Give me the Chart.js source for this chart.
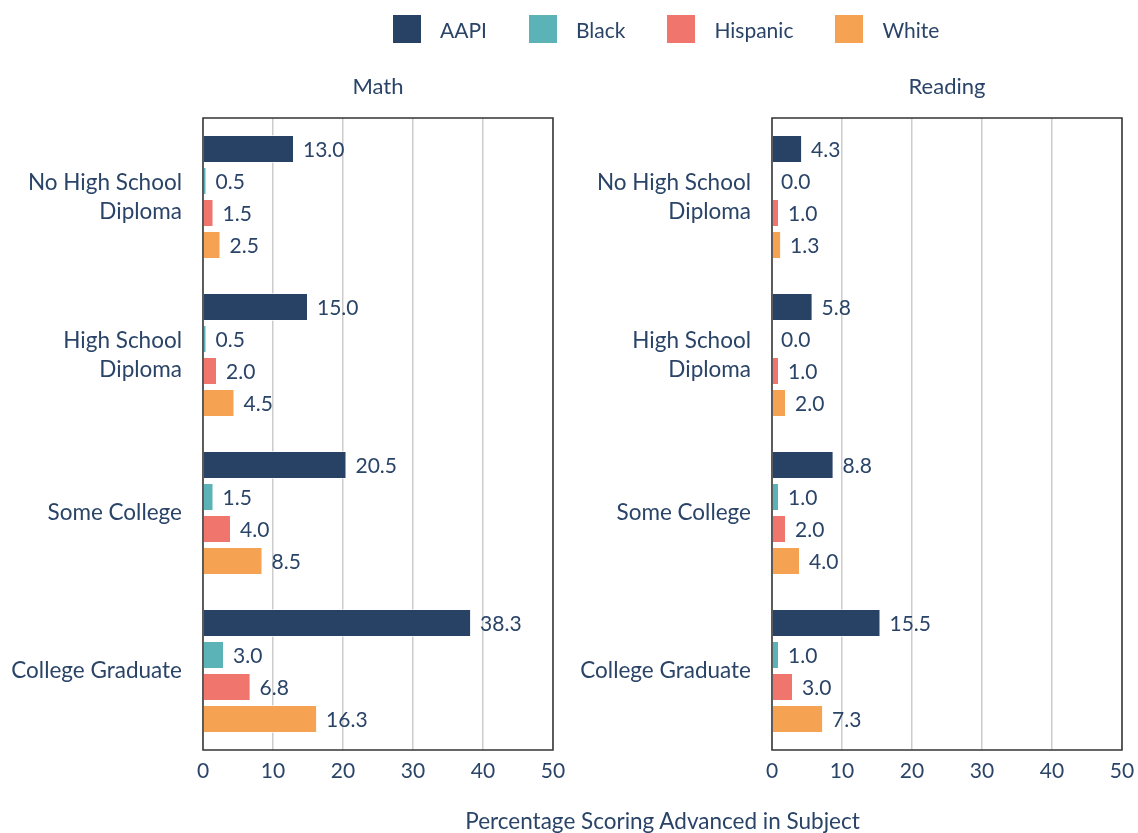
<!DOCTYPE html>
<html>
<head>
<meta charset="utf-8">
<script src="https://cdn.jsdelivr.net/npm/chart.js@4.4.1/dist/chart.umd.min.js"></script>
<style>
    body { margin: 0; background: #fff; font-family: Lato, sans-serif; color: #2a4468; }
    #wrap { position: relative; width: 1138px; height: 833px; overflow: hidden; }
    .panel { position: absolute; top: 0; width: 569px; height: 833px; }
    #legend { position: absolute; top: 15px; left: 393px; display: flex; align-items: center; font-size: 21px; }
    #legend .item { display: flex; align-items: center; margin-right: 42px; }
    #legend .box { width: 28px; height: 28px; margin-right: 19px; }
    #xtitle { position: absolute; top: 807px; left: 0; width: 1325px; text-align: center; font-size: 22.5px; }
</style>
</head>
<body>
<div id="wrap">
    <div class="panel" style="left:0"><canvas id="mathChart"></canvas></div>
    <div class="panel" style="left:569px"><canvas id="readingChart"></canvas></div>
    <div id="legend"></div>
    <div id="xtitle">Percentage Scoring Advanced in Subject</div>
</div>
<script>
// Chart data
const categories = [['No High School', 'Diploma'], ['High School', 'Diploma'], 'Some College', 'College Graduate'];
const seriesNames = ['AAPI', 'Black', 'Hispanic', 'White'];
const seriesColors = ['#284266', '#5bb3b7', '#ef756d', '#f5a352'];
const xTicks = [0, 10, 20, 30, 40, 50];

const mathAAPI = [13.0, 15.0, 20.5, 38.3];
const mathBlack = [0.5, 0.5, 1.5, 3.0];
const mathHispanic = [1.5, 2.0, 4.0, 6.8];
const mathWhite = [2.5, 4.5, 8.5, 16.3];

const readingAAPI = [4.3, 5.8, 8.8, 15.5];
const readingBlack = [0.0, 0.0, 1.0, 1.0];
const readingHispanic = [1.0, 1.0, 2.0, 3.0];
const readingWhite = [1.3, 2.0, 4.0, 7.3];

const textColor = '#2a4468';
const fontFamily = 'Lato, sans-serif';

// Legend
const legend = document.getElementById('legend');
seriesNames.forEach(function (name, i) {
    const item = document.createElement('div');
    item.className = 'item';
    item.innerHTML = `<span class="box" style="background:${seriesColors[i]}"></span><span>${name}</span>`;
    legend.appendChild(item);
});

// Frame, panel title and value labels
const decorPlugin = {
    id: 'decor',
    afterDatasetsDraw(chart) {
        const ctx = chart.ctx;
        const area = chart.chartArea;
        ctx.save();
        ctx.font = `21px ${fontFamily}`;
        ctx.fillStyle = textColor;
        ctx.textBaseline = 'middle';
        ctx.textAlign = 'left';
        chart.data.datasets.forEach(function (ds, di) {
            chart.getDatasetMeta(di).data.forEach(function (bar, i) {
                ctx.fillText(ds.data[i].toFixed(1), bar.x + 9, bar.y + 1);
            });
        });
        ctx.strokeStyle = '#333333';
        ctx.lineWidth = 1.5;
        ctx.strokeRect(area.left, area.top, area.right - area.left, area.bottom - area.top);
        ctx.textAlign = 'center';
        ctx.font = `22px ${fontFamily}`;
        ctx.fillText(chart.options.plugins.decor.title, (area.left + area.right) / 2, 87);
        ctx.restore();
    }
};

function makeChart(id, title, values) {
    new Chart(document.getElementById(id), {
        type: 'bar',
        data: {
            labels: categories,
            datasets: seriesNames.map(function (name, i) {
                return {
                    label: name,
                    data: values[i],
                    backgroundColor: seriesColors[i],
                    borderColor: 'rgba(255,255,255,0.6)',
                    borderWidth: 1,
                    barPercentage: 0.88,
                    categoryPercentage: 0.81
                };
            })
        },
        options: {
            indexAxis: 'y',
            responsive: true,
            maintainAspectRatio: false,
            animation: false,
            layout: { padding: { top: 118, right: 16, bottom: 43, left: 0 } },
            plugins: {
                legend: { display: false },
                tooltip: { enabled: false },
                decor: { title: title }
            },
            scales: {
                x: {
                    min: 0,
                    max: 50,
                    afterBuildTicks: function (axis) {
                        axis.ticks = xTicks.map(v => ({ value: v }));
                    },
                    afterFit: function (axis) {
                        axis.height = 40;
                        axis.paddingRight = 0;
                    },
                    border: { display: false },
                    grid: { color: '#cccccc', lineWidth: 1.5, drawTicks: false },
                    ticks: { color: textColor, padding: 9, font: { family: fontFamily, size: 21 } }
                },
                y: {
                    afterFit: function (axis) { axis.width = 203; },
                    border: { display: false },
                    grid: { display: false, drawTicks: false },
                    ticks: { color: textColor, padding: 21, font: { family: fontFamily, size: 22.5, lineHeight: 1.3 } }
                }
            }
        },
        plugins: [decorPlugin]
    });
}

makeChart('mathChart', 'Math', [mathAAPI, mathBlack, mathHispanic, mathWhite]);
makeChart('readingChart', 'Reading', [readingAAPI, readingBlack, readingHispanic, readingWhite]);
</script>
</body>
</html>
